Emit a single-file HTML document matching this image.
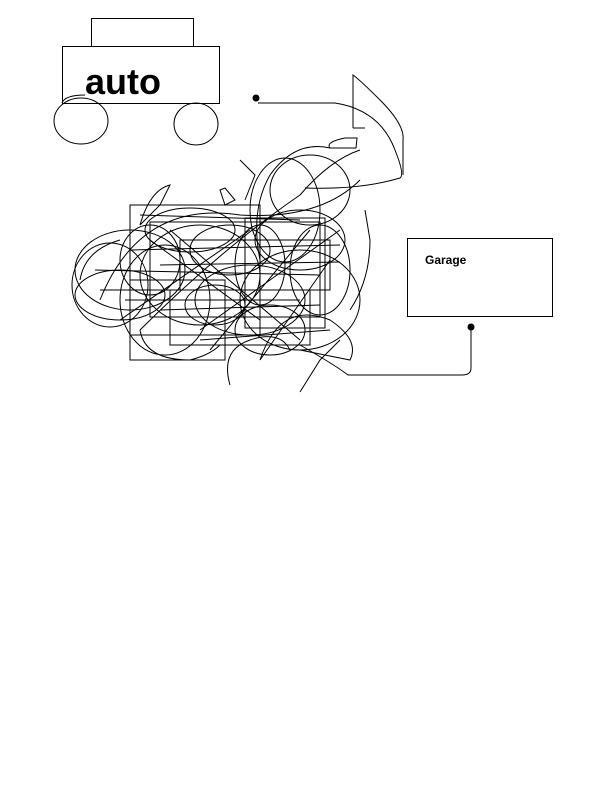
<!DOCTYPE html>
<html><head><style>
html,body{margin:0;padding:0;background:#fff;}
svg{display:block;}
</style></head><body>
<svg width="610" height="797" viewBox="0 0 610 797" xmlns="http://www.w3.org/2000/svg" fill="none" stroke="#000" stroke-width="1">
<rect x="91.5" y="18.5" width="102" height="28"/>
<rect x="62.5" y="46.5" width="157" height="57"/>
<text x="85" y="94" font-family="Liberation Sans, sans-serif" font-weight="bold" font-size="36" fill="#000" stroke="none">auto</text>
<ellipse cx="81" cy="121" rx="27" ry="23"/>
<ellipse cx="196" cy="124" rx="22" ry="21"/>
<path d="M85 95 Q65 95 62 103"/>
<circle cx="256" cy="98" r="3" fill="#000"/>
<path d="M258 103 L335 103 Q380 110 395 150 Q405 175 400 178 Q360 190 305 188"/>
<path d="M353 128 L353 75 Q360 80 380 100 Q405 125 403 140 L403 175"/>
<path d="M353 128 L365 128"/>
<path d="M330 148 Q325 142 345 138 L357 138 L356 148 Z"/>
<rect x="407.5" y="238.5" width="145" height="78"/>
<text x="425" y="264" font-family="Liberation Sans, sans-serif" font-weight="bold" font-size="12" fill="#000" stroke="none">Garage</text>
<circle cx="471" cy="327" r="3" fill="#000"/>
<path d="M471 327 L471 368 Q471 375 462 375 L348 375 Q335 365 300 345"/>
<g stroke-width="1">
<ellipse cx="130" cy="270" rx="55" ry="40"/>
<ellipse cx="110" cy="285" rx="38" ry="42"/>
<ellipse cx="200" cy="275" rx="60" ry="50"/>
<ellipse cx="165" cy="300" rx="45" ry="55"/>
<ellipse cx="285" cy="210" rx="35" ry="52"/>
<ellipse cx="300" cy="240" rx="45" ry="30"/>
<ellipse cx="250" cy="300" rx="55" ry="35"/>
<ellipse cx="215" cy="305" rx="30" ry="20"/>
<ellipse cx="300" cy="300" rx="60" ry="50"/>
<ellipse cx="230" cy="250" rx="40" ry="25"/>
<ellipse cx="310" cy="190" rx="40" ry="35"/>
<ellipse cx="150" cy="260" rx="30" ry="35"/>
<ellipse cx="270" cy="330" rx="35" ry="25"/>
<ellipse cx="190" cy="230" rx="45" ry="22"/>
<ellipse cx="320" cy="270" rx="30" ry="45"/>
<ellipse cx="120" cy="295" rx="45" ry="25"/>
<ellipse cx="260" cy="265" rx="25" ry="40"/>
<rect x="130" y="205" width="130" height="130"/>
<rect x="150" y="222" width="170" height="95"/>
<rect x="170" y="290" width="140" height="55"/>
<rect x="245" y="218" width="80" height="110"/>
<rect x="130" y="280" width="95" height="80"/>
<rect x="180" y="240" width="150" height="50"/>
<path d="M95 270 L320 275 M100 290 L330 290 M130 250 L340 245 M160 310 L320 305 M200 340 L330 330 M140 215 L300 220 M125 300 L300 300 M160 265 L340 262"/>
<path d="M100 300 Q140 200 240 215 Q320 220 360 180"/>
<path d="M140 330 Q220 250 300 195 Q330 160 360 150"/>
<path d="M150 240 L260 320 M170 230 L300 340 M210 350 L310 230 M260 360 L330 260 M120 320 L250 230 M200 330 L340 230"/>
<path d="M260 360 Q280 300 330 320 Q360 340 350 360 L300 350"/>
<path d="M300 392 L320 360 L340 340"/>
<path d="M230 385 Q220 350 250 340 Q280 330 290 350"/>
<path d="M140 225 Q150 190 170 185 L160 205 Q150 215 140 225"/>
<path d="M220 190 L225 188 L235 200 L225 205 Z"/>
<path d="M240 160 L255 175 L245 200"/>
<path d="M350 310 Q370 280 370 240 L365 210"/>
<path d="M330 148 Q295 140 270 175 Q250 210 260 260"/>
<path d="M140 330 Q145 360 190 360 Q210 355 220 345"/>
<path d="M80 280 Q85 250 120 240"/>
</g>
</svg>
</body></html>
